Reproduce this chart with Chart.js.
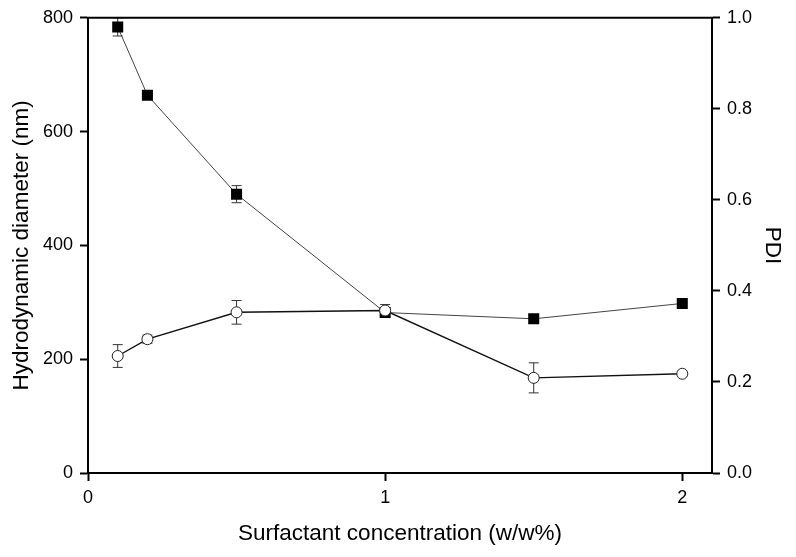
<!DOCTYPE html>
<html>
<head>
<meta charset="utf-8">
<script src="https://cdn.jsdelivr.net/npm/chart.js@4.4.1/dist/chart.umd.min.js"></script>
<style>
  html, body { margin: 0; padding: 0; background: #fff; }
  #wrap { width: 796px; height: 557px; }
</style>
</head>
<body>
<div id="wrap"><canvas id="sizeChart" width="796" height="557"></canvas></div>
<script>
// values
const conc = [0.1, 0.2, 0.5, 1, 1.5, 2]
const diameter = [784, 664, 490, 282, 271, 298]
const diameterErr = [16, 0, 15, 0, 0, 0]
const pdi = [0.257, 0.294, 0.353, 0.357, 0.209, 0.218]
const pdiErr = [0.025, 0.009, 0.026, 0.013, 0.033, 0.005]
const leftTicks = [0, 200, 400, 600, 800]
const rightTicks = [0, 0.2, 0.4, 0.6, 0.8, 1.0]
const xTicks = [0, 1, 2]

const font = "'Liberation Sans', Arial, sans-serif"

// error bars + top frame line
const errorBars = {
    id: 'errorBars',
    beforeDatasetsDraw(chart) {
        const ctx = chart.ctx
        chart.data.datasets.forEach((ds, i) => {
            const meta = chart.getDatasetMeta(i)
            const ys = chart.scales[ds.yAxisID]
            ctx.save()
            ctx.strokeStyle = '#333'
            ctx.lineWidth = 1
            ds.errors.forEach((e, j) => {
                if (!e) return
                const x = meta.data[j].x
                const v = ds.data[j].y
                const yTop = ys.getPixelForValue(v + e)
                const yBot = ys.getPixelForValue(v - e)
                ctx.beginPath()
                ctx.moveTo(x, yTop); ctx.lineTo(x, yBot)
                ctx.moveTo(x - 5, yTop); ctx.lineTo(x + 5, yTop)
                ctx.moveTo(x - 5, yBot); ctx.lineTo(x + 5, yBot)
                ctx.stroke()
            })
            ctx.restore()
        })
    },
    afterDraw(chart) {
        const {ctx, chartArea} = chart
        ctx.save()
        ctx.strokeStyle = '#000'
        ctx.lineWidth = 2
        ctx.beginPath()
        ctx.moveTo(chartArea.left - 1, chartArea.top)
        ctx.lineTo(chartArea.right + 1, chartArea.top)
        ctx.stroke()
        ctx.restore()
    }
}

function axisStyle(extra) {
    return Object.assign({
        grid: { display: true, drawOnChartArea: false, drawTicks: true, tickLength: 8, tickWidth: 2, tickColor: '#000' },
        border: { display: true, color: '#000', width: 2 },
        ticks: { color: '#000', font: { family: font, size: 18 }, padding: 7 }
    }, extra)
}

const canvas = document.getElementById('sizeChart')
const myChart = new Chart(canvas, {
    type: 'scatter',
    data: {
        datasets: [{
            label: 'PDI',
            data: conc.map((c, i) => ({x: c, y: pdi[i]})),
            errors: pdiErr,
            yAxisID: 'y1',
            showLine: true,
            borderColor: '#111',
            borderWidth: 1.4,
            pointStyle: 'circle',
            pointRadius: 5.5,
            pointHoverRadius: 5.5,
            pointBackgroundColor: '#fff',
            pointBorderColor: '#222',
            pointBorderWidth: 1
        }, {
            label: 'Hydrodynamic diameter',
            data: conc.map((c, i) => ({x: c, y: diameter[i]})),
            errors: diameterErr,
            yAxisID: 'y',
            showLine: true,
            borderColor: '#444',
            borderWidth: 1,
            pointStyle: 'rect',
            pointRadius: 7.8,
            pointHoverRadius: 7.8,
            pointBackgroundColor: '#000',
            pointBorderColor: '#000',
            pointBorderWidth: 0
        }]
    },
    options: {
        responsive: false,
        animation: false,
        layout: { padding: { top: 15, left: 0, right: 0, bottom: 0 } },
        plugins: { legend: { display: false }, tooltip: { enabled: false } },
        scales: {
            x: axisStyle({
                type: 'linear',
                min: 0, max: 2.1,
                afterBuildTicks: s => { s.ticks = xTicks.map(v => ({value: v})) },
                afterFit: s => { s.height = 84 },
                ticks: { color: '#000', font: { family: font, size: 18 }, padding: 6, callback: v => String(v) },
                title: { display: true, text: 'Surfactant concentration (w/w%)', color: '#000',
                         font: { family: font, size: 22.5 }, padding: { top: 0, bottom: 10 } }
            }),
            y: axisStyle({
                type: 'linear', position: 'left',
                min: 0, max: 800,
                afterBuildTicks: s => { s.ticks = leftTicks.map(v => ({value: v})) },
                afterFit: s => { s.width = 88 },
                title: { display: true, text: 'Hydrodynamic diameter (nm)', color: '#000',
                         font: { family: font, size: 22.5 }, padding: { top: 8, bottom: 0 } }
            }),
            y1: axisStyle({
                type: 'linear', position: 'right',
                min: 0, max: 1,
                afterBuildTicks: s => { s.ticks = rightTicks.map(v => ({value: v})) },
                afterFit: s => { s.width = 84 },
                ticks: { color: '#000', font: { family: font, size: 18 }, padding: 7, callback: v => v.toFixed(1) },
                title: { display: true, text: 'PDI', color: '#000',
                         font: { family: font, size: 22.5 }, padding: { top: 10, bottom: 0 } }
            })
        }
    },
    plugins: [errorBars]
})
</script>
</body>
</html>
